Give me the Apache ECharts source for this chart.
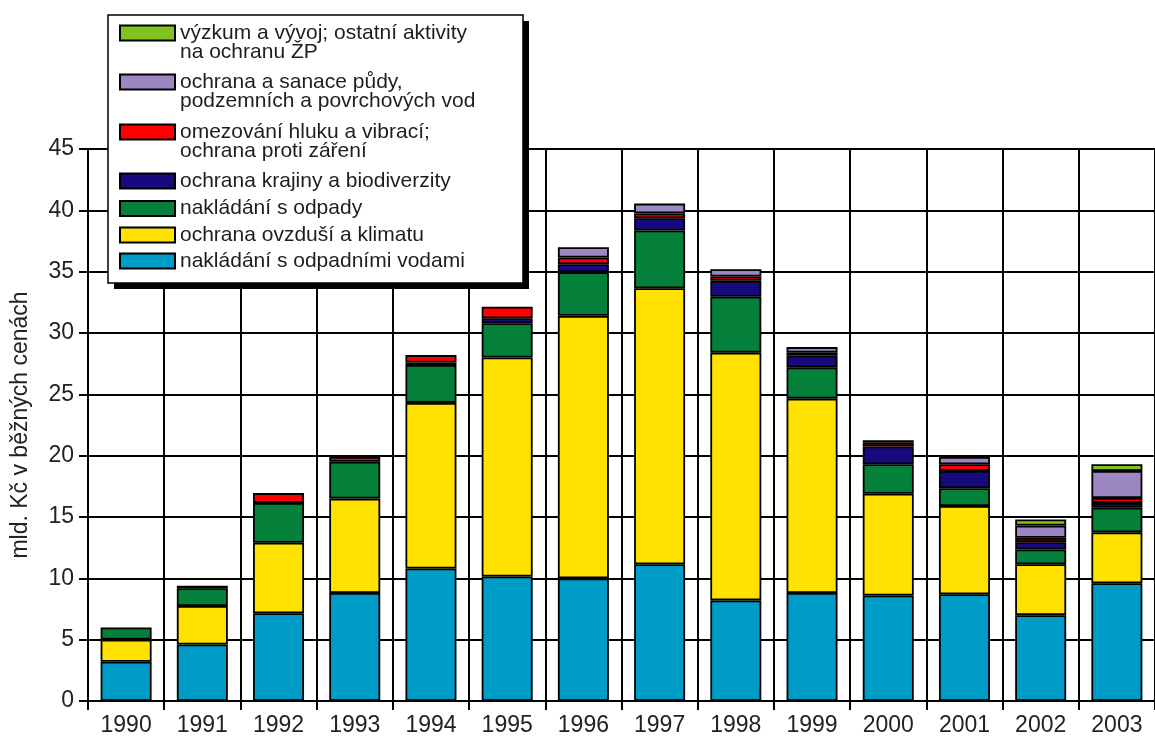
<!DOCTYPE html>
<html>
<head>
<meta charset="utf-8">
<script src="https://cdn.jsdelivr.net/npm/echarts@6/dist/echarts.min.js"></script>
<style>
html,body{margin:0;padding:0;background:#fff;}
#chart{width:1155px;height:737px;}
</style>
</head>
<body>
<div id="chart"></div>
<script>
var years = ['1990','1991','1992','1993','1994','1995','1996','1997','1998','1999','2000','2001','2002','2003'];
var yTicks = [0,5,10,15,20,25,30,35,40,45];

var seriesNames = [
  'nakládání s odpadními vodami',
  'ochrana ovzduší a klimatu',
  'nakládání s odpady',
  'ochrana krajiny a biodiverzity',
  'omezování hluku a vibrací;\nochrana proti záření',
  'ochrana a sanace půdy,\npodzemních a povrchových vod',
  'výzkum a vývoj; ostatní aktivity\nna ochranu ŽP'
];
var seriesColors = ['#009cc8','#ffe200','#05803a','#170a7c','#ff0000','#9d87c2','#80c31f'];

var odpadniVody = [3.2, 4.6, 7.15, 8.8, 10.8, 10.15, 10.0, 11.15, 8.2, 8.8, 8.6, 8.7, 7.0, 9.6];
var ovzdusi     = [1.8, 3.15, 5.75, 7.7, 13.5, 17.85, 21.4, 22.5, 20.2, 15.85, 8.3, 7.2, 4.15, 4.15];
var odpady      = [1.0, 1.45, 3.25, 3.0, 3.1, 2.8, 3.55, 4.7, 4.55, 2.55, 2.4, 1.45, 1.2, 2.0];
var krajina     = [0, 0.2, 0, 0, 0.2, 0.4, 0.65, 1.0, 1.3, 0.95, 1.45, 1.4, 0.6, 0.4];
var hluk        = [0, 0, 0.8, 0.4, 0.6, 0.95, 0.55, 0.4, 0.35, 0.25, 0.3, 0.55, 0.35, 0.4];
var puda        = [0, 0, 0, 0, 0, 0, 0.85, 0.8, 0.6, 0.45, 0.2, 0.6, 1.0, 2.2];
var vyzkum      = [0, 0, 0, 0, 0, 0, 0, 0, 0, 0, 0, 0, 0.5, 0.55];

var allData = [odpadniVody, ovzdusi, odpady, krajina, hluk, puda, vyzkum];

var FONT = '"Liberation Sans", Arial, Helvetica, sans-serif';
var LH = 19;

var series = allData.map(function (arr, i) {
  return {
    name: seriesNames[i],
    type: 'bar',
    stack: 'total',
    barWidth: 51,
    data: arr.map(function (v) { return v === 0 ? null : v; }),
    itemStyle: { color: seriesColors[i], borderColor: '#000', borderWidth: 1.8 },
    emphasis: { disabled: true }
  };
});

// legend order top to bottom and icon centre positions
var legendOrder = [6, 5, 4, 3, 2, 1, 0];
var legendCentres = [32, 81, 131, 180, 207.5, 234, 260];
var legends = legendOrder.map(function (si, k) {
  var twoLines = seriesNames[si].indexOf('\n') >= 0;
  var c = legendCentres[k];
  var top = twoLines ? c - 1.5 * LH : c - LH / 2;
  return {
    z: 6,
    left: 119,
    top: top,
    padding: 0,
    orient: 'vertical',
    icon: 'rect',
    itemWidth: 55,
    itemHeight: 15,
    selectedMode: false,
    data: [{ name: seriesNames[si] }],
    formatter: function (name) { return twoLines ? '\n' + name : name; },
    textStyle: {
      fontFamily: FONT,
      fontSize: 21,
      lineHeight: LH,
      color: '#1e1e1e'
    }
  };
});

var chart = echarts.init(document.getElementById('chart'));
chart.setOption({
  animation: false,
  backgroundColor: '#fff',
  grid: { left: 88, right: -11, top: 149, bottom: 35, containLabel: false },
  legend: legends,
  graphic: [
    { type: 'rect', z: 4, shape: { x: 114, y: 21, width: 415, height: 268 }, style: { fill: '#000' } },
    { type: 'rect', z: 5, shape: { x: 108, y: 15, width: 415, height: 268 }, style: { fill: '#fff', stroke: '#000', lineWidth: 1.5 } }
  ],
  xAxis: {
    type: 'category',
    data: years,
    boundaryGap: true,
    axisLine: { lineStyle: { color: '#000', width: 2 } },
    axisTick: { show: true, length: 9, lineStyle: { color: '#000', width: 2 } },
    axisLabel: { fontFamily: FONT, fontSize: 23, color: '#222', margin: 13 },
    splitLine: { show: true, lineStyle: { color: '#000', width: 2 } }
  },
  yAxis: {
    type: 'value',
    min: 0,
    max: 45,
    interval: 5,
    name: 'mld. Kč v běžných cenách',
    nameLocation: 'middle',
    nameGap: 56,
    nameTextStyle: { fontFamily: FONT, fontSize: 23, color: '#222' },
    axisLine: { show: true, lineStyle: { color: '#000', width: 2 } },
    axisTick: { show: true, length: 9, lineStyle: { color: '#000', width: 2 } },
    axisLabel: {
      fontFamily: FONT, fontSize: 23, color: '#222', margin: 14,
      formatter: function (v) { return yTicks.indexOf(v) >= 0 ? String(v) : ''; }
    },
    splitLine: { show: true, lineStyle: { color: '#000', width: 2 } }
  },
  series: series
});
</script>
</body>
</html>
